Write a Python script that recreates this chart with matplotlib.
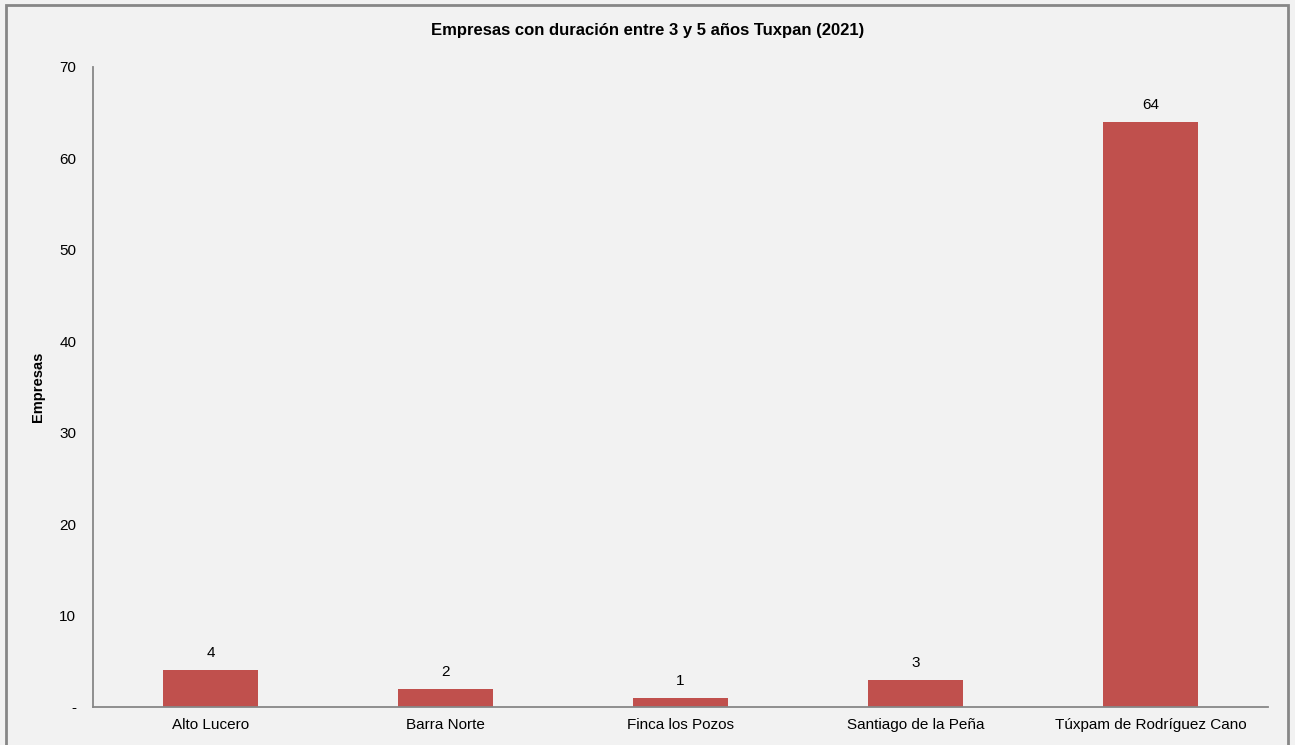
import matplotlib.pyplot as plt
from matplotlib.patches import Rectangle

localidades = ["Alto Lucero", "Barra Norte", "Finca los Pozos",
               "Santiago de la Peña", "Túxpam de Rodríguez Cano"]
empresas = [4, 2, 1, 3, 64]
yticks = [0, 10, 20, 30, 40, 50, 60, 70]
ytick_labels = ["-", "10", "20", "30", "40", "50", "60", "70"]

plt.rcParams["font.family"] = ["Liberation Sans", "DejaVu Sans"]

fig = plt.figure(figsize=(12.95, 7.45), dpi=100)
fig.patch.set_facecolor("#f2f2f2")
fig.patches.append(Rectangle((6 / 1295, -0.05), 1282 / 1295, 1.05 - 5 / 745,
                             transform=fig.transFigure, fill=False,
                             edgecolor="#878787", linewidth=2, zorder=0))

ax = fig.add_axes([93 / 1295, 38 / 745, 1175 / 1295, 640 / 745])
ax.set_facecolor("#f2f2f2")
x = range(len(localidades))
bars = ax.bar(x, empresas, width=0.405, color="#c0504d")
for b, v in zip(bars, empresas):
    ax.text(b.get_x() + b.get_width() / 2, v + 1.1, str(v),
            ha="center", va="bottom", fontsize=11)

ax.set_xlim(-0.5, len(localidades) - 0.5)
ax.set_ylim(0, 70)
ax.set_xticks(list(x))
ax.set_xticklabels(localidades, fontsize=11)
ax.set_yticks(yticks)
ax.set_yticklabels(ytick_labels, fontsize=11)
ax.tick_params(axis="both", length=0)
ax.tick_params(axis="y", pad=12)
ax.tick_params(axis="x", pad=8)
for s in ["top", "right"]:
    ax.spines[s].set_visible(False)
for s in ["left", "bottom"]:
    ax.spines[s].set_color("#878787")
    ax.spines[s].set_linewidth(1.3)

ax.set_ylabel("Empresas", fontsize=10.5, fontweight="bold", labelpad=10)
fig.text(0.5, 1 - 31 / 745, "Empresas con duración entre 3 y 5 años Tuxpan (2021)",
         ha="center", va="center", fontsize=12, fontweight="bold")

fig.savefig("out.png", dpi=100, facecolor=fig.get_facecolor())
